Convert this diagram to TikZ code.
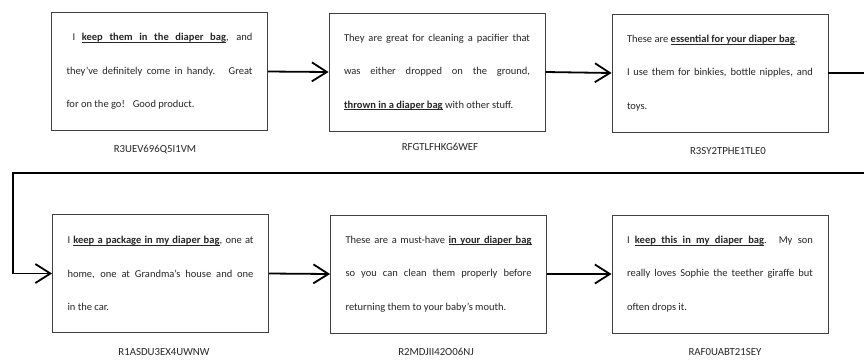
\documentclass[tikz,border=0pt]{standalone}
\usepackage{fontspec}
\setmainfont{Carlito}
\usetikzlibrary{arrows.meta}
\newcommand{\uw}[1]{\setbox0\hbox{#1}\rlap{\rule[-2pt]{\wd0}{0.8pt}}\box0}
\newcommand{\us}{\leaders\hrule height -1.2pt depth 2pt\hskip\fontdimen2\font plus \fontdimen3\font minus \fontdimen4\font\relax}
\newcommand{\jl}[1]{\makebox[186pt][s]{#1}}
\newcommand{\lastl}[1]{\makebox[186pt][l]{#1}}
\newcommand{\revtext}[3]{\parbox{186pt}{\fontsize{10.5pt}{33.5pt}\selectfont #1\\#2\\#3}}
\tikzset{
  revbox/.style={draw=black!75, line width=0.9pt, minimum width=216pt, minimum height=118pt, inner sep=0pt, text=black!85, fill=white},
  idlabel/.style={font=\fontsize{10.8pt}{12pt}\selectfont, text=black!85, inner sep=0pt},
  conn/.style={line width=1.8pt, -{Straight Barb[length=15pt,width=19pt]}}
}
\begin{document}
\begin{tikzpicture}[x=1pt,y=-1pt]
\useasboundingbox (0,0) rectangle (864,360);
\fill[white] (0,0) rectangle (864,360);
\clip (0,0) rectangle (864,360);

\node[revbox] (B1) at (159.5,71.5) {\revtext{\jl{\hspace{6pt}I {\bfseries\uw{keep}\us\uw{them}\us\uw{in}\us\uw{the}\us\uw{diaper}\us\uw{bag}}, and}}{\jl{they've definitely come in handy. \ Great}}{\lastl{for on the go! \ \ Good product.}}};
\node[revbox] (B2) at (437,72) {\revtext{\jl{They are great for cleaning a pacifier that}}{\jl{was either dropped on the ground,}}{\lastl{{\bfseries\uw{thrown}\us\uw{in}\us\uw{a}\us\uw{diaper}\us\uw{bag}} with other stuff.}}};
\node[revbox] (B3) at (720,73) {\revtext{\lastl{These are {\bfseries\uw{essential}\us\uw{for}\us\uw{your}\us\uw{diaper}\us\uw{bag}}.}}{\jl{I use them for binkies, bottle nipples, and}}{\lastl{toys.}}};
\node[revbox] (B4) at (160.5,273.5) {\revtext{\jl{I {\bfseries\uw{keep}\us\uw{a}\us\uw{package}\us\uw{in}\us\uw{my}\us\uw{diaper}\us\uw{bag}}, one at}}{\jl{home, one at Grandma's house and one}}{\lastl{in the car.}}};
\node[revbox] (B5) at (438.5,274) {\revtext{\jl{These are a must-have {\bfseries\uw{in}\us\uw{your}\us\uw{diaper}\us\uw{bag}}}}{\jl{so you can clean them properly before}}{\lastl{returning them to your baby's mouth.}}};
\node[revbox] (B6) at (720,274) {\revtext{\jl{I {\bfseries\uw{keep}\us\uw{this}\us\uw{in}\us\uw{my}\us\uw{diaper}\us\uw{bag}}. My son}}{\jl{really loves Sophie the teether giraffe but}}{\lastl{often drops it.}}};

\node[idlabel] (L1) at (155,150) {R3UEV696Q5I1VM};
\node[idlabel] (L2) at (440,147) {RFGTLFHKG6WEF};
\node[idlabel] (L3) at (728,151.5) {R3SY2TPHE1TLE0};
\node[idlabel] (L4) at (164,352.5) {R1ASDU3EX4UWNW};
\node[idlabel] (L5) at (436,351.5) {R2MDJII42O06NJ};
\node[idlabel] (L6) at (725,352.5) {RAF0UABT21SEY};

\coordinate (rc) at (885,172.7);
\coordinate (lc) at (13.3,172.7);

\draw[conn] (B1.east) -- (B2.west);
\draw[conn] (B2.east) -- (B3.west);
\draw[conn] (B3.east) -| (rc) -- (lc) |- (B4.west);
\draw[conn] (B4.east) -- (B5.west);
\draw[conn] (B5.east) -- (B6.west);
\end{tikzpicture}
\end{document}
